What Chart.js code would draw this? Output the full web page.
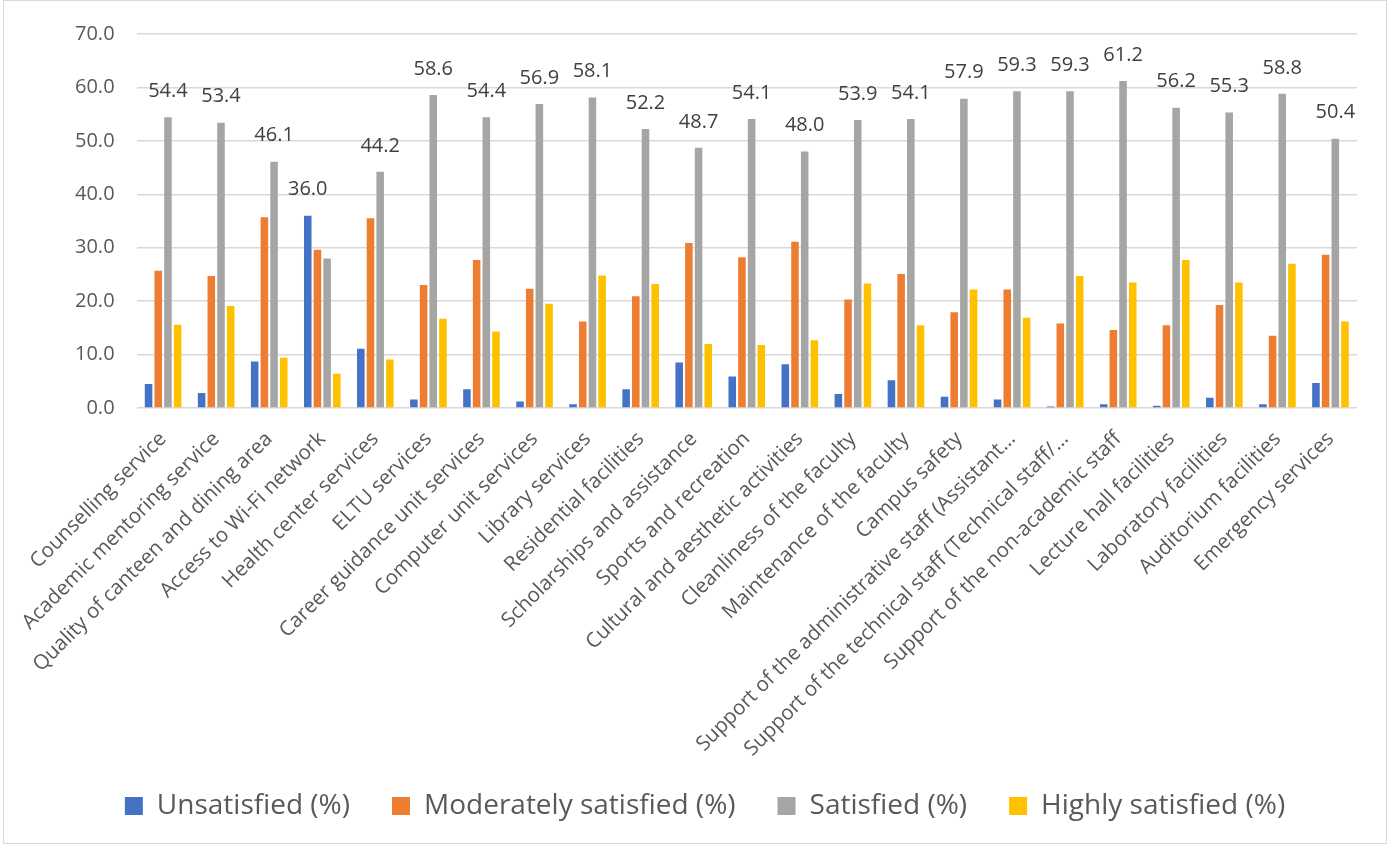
<!DOCTYPE html>
<html>
<head>
<meta charset="utf-8">
<script src="https://cdn.jsdelivr.net/npm/chart.js@4/dist/chart.umd.min.js"></script>
<style>
  html, body { margin: 0; padding: 0; background: #ffffff; }
  #wrap { width: 1389px; height: 846px; position: relative; }
</style>
</head>
<body>
<div id="wrap"><canvas id="c" width="1389" height="846"></canvas></div>
<script>
// Student satisfaction with university services (%)
const categories = [
  "Counselling service",
  "Academic mentoring service",
  "Quality of canteen and dining area",
  "Access to Wi-Fi network",
  "Health center services",
  "ELTU services",
  "Career guidance unit services",
  "Computer unit services",
  "Library services",
  "Residential facilities",
  "Scholarships and assistance",
  "Sports and recreation",
  "Cultural and aesthetic activities",
  "Cleanliness of the faculty",
  "Maintenance of the faculty",
  "Campus safety",
  "Support of the administrative staff (Assistant\u2026",
  "Support of the technical staff (Technical staff/\u2026",
  "Support of the non-academic staff",
  "Lecture hall facilities",
  "Laboratory facilities",
  "Auditorium facilities",
  "Emergency services"
];

const unsatisfied = [4.5, 2.8, 8.7, 36.0, 11.1, 1.6, 3.5, 1.2, 0.7, 3.5, 8.5, 5.9, 8.2, 2.6, 5.2, 2.1, 1.6, 0.3, 0.7, 0.4, 1.9, 0.7, 4.7];
const moderatelySatisfied = [25.7, 24.7, 35.7, 29.6, 35.5, 23.0, 27.7, 22.3, 16.2, 20.9, 30.9, 28.2, 31.1, 20.3, 25.1, 17.9, 22.2, 15.8, 14.6, 15.5, 19.3, 13.5, 28.7];
const satisfied = [54.4, 53.4, 46.1, 28.0, 44.2, 58.6, 54.4, 56.9, 58.1, 52.2, 48.7, 54.1, 48.0, 53.9, 54.1, 57.9, 59.3, 59.3, 61.2, 56.2, 55.3, 58.8, 50.4];
const highlySatisfied = [15.6, 19.1, 9.4, 6.4, 9.1, 16.7, 14.3, 19.5, 24.8, 23.2, 12.0, 11.8, 12.7, 23.3, 15.5, 22.2, 16.9, 24.7, 23.5, 27.7, 23.5, 27.0, 16.2];

const seriesNames = ["Unsatisfied (%)", "Moderately satisfied (%)", "Satisfied (%)", "Highly satisfied (%)"];
const seriesColors = ["#4472C4", "#ED7D31", "#A5A5A5", "#FFC000"];

const FONT = "'Open Sans', 'DejaVu Sans', sans-serif";

// Label the tallest bar of every category with its value
const maxValueLabels = {
  id: 'maxValueLabels',
  afterDatasetsDraw(chart) {
    const ctx = chart.ctx;
    ctx.save();
    ctx.font = "20px " + FONT;
    ctx.fillStyle = "#404040";
    ctx.textAlign = "center";
    ctx.textBaseline = "middle";
    chart.data.labels.forEach((_, i) => {
      let best = 0;
      chart.data.datasets.forEach((ds, d) => {
        if (ds.data[i] > chart.data.datasets[best].data[i]) best = d;
      });
      const bar = chart.getDatasetMeta(best).data[i];
      const v = chart.data.datasets[best].data[i];
      ctx.fillText(v.toFixed(1), bar.x, bar.y - 26);
    });
    ctx.restore();
  }
};

// Thin frame round the whole chart
const chartFrame = {
  id: 'chartFrame',
  beforeDraw(chart) {
    const ctx = chart.ctx;
    ctx.save();
    ctx.fillStyle = "#ffffff";
    ctx.fillRect(0, 0, chart.width, chart.height);
    ctx.strokeStyle = "#d9d9d9";
    ctx.lineWidth = 1;
    ctx.strokeRect(3.5, 0.5, chart.width - 6, chart.height - 3);
    ctx.restore();
  }
};

// Let the long rotated category names run down towards the legend
const longLabelRoom = {
  id: 'longLabelRoom',
  afterLayout(chart) {
    chart.scales.x.bottom += 40;
  }
};

const seriesData = [unsatisfied, moderatelySatisfied, satisfied, highlySatisfied];

new Chart(document.getElementById('c'), {
  type: 'bar',
  data: {
    labels: categories,
    datasets: seriesData.map((vals, k) => ({
      label: seriesNames[k],
      data: vals,
      backgroundColor: seriesColors[k],
      borderWidth: 0,
      categoryPercentage: 0.73,
      barPercentage: 0.78
    }))
  },
  options: {
    responsive: false,
    animation: false,
    devicePixelRatio: 1,
    layout: { padding: { left: 53, right: 32, top: 34, bottom: 16 } },
    plugins: {
      legend: {
        position: 'bottom',
        labels: {
          font: { family: FONT, size: 28 },
          color: '#595959',
          boxWidth: 18,
          boxHeight: 18,
          padding: 42
        }
      },
      tooltip: { enabled: false }
    },
    scales: {
      x: {
        grid: { display: false, drawTicks: false },
        border: { display: false },
        afterFit(scale) {
          scale.paddingLeft = 0;
          scale.paddingRight = 0;
          scale.height = 342;
        },
        ticks: {
          autoSkip: false,
          maxRotation: 45,
          minRotation: 45,
          padding: 19,
          color: '#595959',
          font: { family: FONT, size: 20.5 }
        }
      },
      y: {
        min: 0,
        max: 70,
        grid: { color: '#d9d9d9', lineWidth: 1.5, drawTicks: false },
        border: { display: false },
        ticks: {
          stepSize: 10,
          padding: 22,
          color: '#595959',
          font: { family: FONT, size: 20 },
          callback: v => Number(v).toFixed(1)
        }
      }
    }
  },
  plugins: [chartFrame, longLabelRoom, maxValueLabels]
});
</script>
</body>
</html>
